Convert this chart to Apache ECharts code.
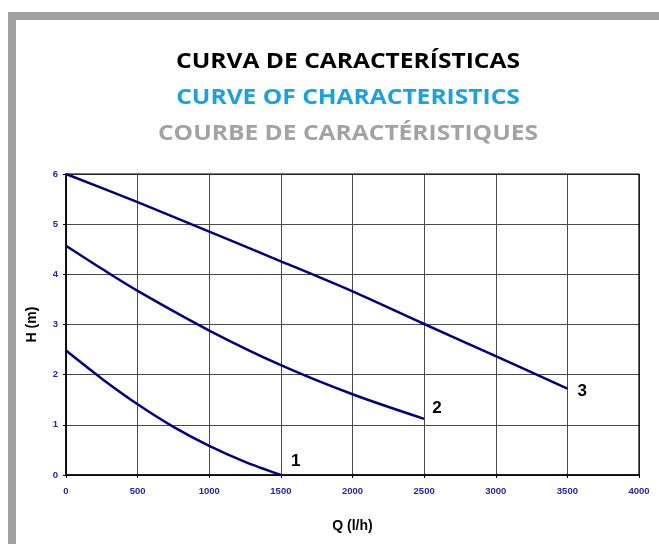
<!DOCTYPE html>
<html>
<head>
<meta charset="utf-8">
<style>
  html, body { margin: 0; padding: 0; background: #ffffff; }
  #chart { width: 659px; height: 544px; }
</style>
<script src="https://cdn.jsdelivr.net/npm/echarts@6/dist/echarts.min.js"></script>
</head>
<body>
<div id="chart"></div>
<script>
// Flow rate (l/h) sample points and the head (m) for each pump speed curve
const flow1 = [0, 250, 500, 750, 1000, 1250, 1500];
const head1 = [2.48, 1.92, 1.41, 0.96, 0.58, 0.26, 0.0];

const flow2 = [0, 250, 500, 1000, 1500, 2000, 2500];
const head2 = [4.57, 4.11, 3.67, 2.88, 2.19, 1.61, 1.12];

const flow3 = [0, 500, 1000, 1500, 2000, 2500, 3000, 3500];
const head3 = [6.0, 5.44, 4.85, 4.26, 3.66, 3.01, 2.37, 1.72];

const curveNames = ['1', '2', '3'];

const titleLines = [
  'CURVA DE CARACTERÍSTICAS',
  'CURVE OF CHARACTERISTICS',
  'COURBE DE CARACTÉRISTIQUES'
];
const titleColors = ['#000000', '#1ba1dd', '#a3a3a3'];
const titleCentersY = [62, 98, 134];

const xAxisName = 'Q (l/h)';
const yAxisName = 'H (m)';

const pairs = (xs, ys) => xs.map((x, i) => [x, ys[i]]);

const lineColor = '#000080';
const tickColor = '#26269a';

function curve(name, xs, ys, offset) {
  return {
    type: 'line',
    name: name,
    data: pairs(xs, ys),
    smooth: 0.3,
    symbol: 'none',
    lineStyle: { color: lineColor, width: 2.5 },
    endLabel: {
      show: true,
      formatter: name,
      distance: 0,
      offset: offset,
      color: '#000000',
      fontFamily: 'Liberation Sans',
      fontWeight: 'bold',
      fontSize: 17
    },
    z: 5
  };
}

const chart = echarts.init(document.getElementById('chart'), null, { renderer: 'canvas' });

chart.setOption({
  animation: false,
  backgroundColor: '#ffffff',
  graphic: [
    // frame bars along the top and left edges
    { type: 'rect', shape: { x: 8, y: 12, width: 651, height: 8 }, style: { fill: '#a0a0a0' } },
    { type: 'rect', shape: { x: 8, y: 12, width: 8, height: 532 }, style: { fill: '#a0a0a0' } },
    // three-language heading, slightly widened bold sans
    ...titleLines.map((t, i) => ({
      type: 'text',
      x: 348,
      y: titleCentersY[i],
      scaleX: 1.17,
      style: {
        x: 0,
        y: 0,
        text: t,
        fill: titleColors[i],
        font: 'bold 21px "Open Sans"',
        align: 'center',
        verticalAlign: 'middle',
        textAlign: 'center',
        textVerticalAlign: 'middle'
      }
    }))
  ],
  grid: { left: 66, right: 20, top: 174, bottom: 69, show: false },
  xAxis: {
    type: 'value',
    min: 0, max: 4000, interval: 500,
    name: xAxisName,
    nameLocation: 'middle',
    nameGap: 44,
    nameTextStyle: { color: '#000', fontFamily: 'Liberation Sans', fontWeight: 'bold', fontSize: 14 },
    axisLine: { show: true, onZero: false, lineStyle: { color: '#000', width: 1.5 } },
    axisTick: { show: true, length: 3, lineStyle: { color: '#000' } },
    axisLabel: {
      color: tickColor, fontFamily: 'Liberation Sans', fontWeight: 'bold', fontSize: 9.5, margin: 11,
      formatter: v => String(v)
    },
    splitLine: { show: true, lineStyle: { color: '#4a4a4a', width: 1 } }
  },
  yAxis: {
    type: 'value',
    min: 0, max: 6, interval: 1,
    name: yAxisName,
    nameLocation: 'middle',
    nameGap: 27,
    nameRotate: 90,
    nameTextStyle: { color: '#000', fontFamily: 'Liberation Sans', fontWeight: 'bold', fontSize: 14 },
    axisLine: { show: true, onZero: false, lineStyle: { color: '#000', width: 1.5 } },
    axisTick: { show: true, length: 3, lineStyle: { color: '#000' } },
    axisLabel: {
      color: tickColor, fontFamily: 'Liberation Sans', fontWeight: 'bold', fontSize: 9.5, margin: 8,
      formatter: v => String(v)
    },
    splitLine: { show: true, lineStyle: { color: '#4a4a4a', width: 1 } }
  },
  series: [
    curve(curveNames[0], flow1, head1, [10, -14]),
    curve(curveNames[1], flow2, head2, [8, -11]),
    curve(curveNames[2], flow3, head3, [10, 3]),
    // outer border of the plotting area
    {
      type: 'line',
      data: [],
      markArea: {
        silent: true,
        itemStyle: { color: 'transparent', borderColor: '#000', borderWidth: 1.2 },
        data: [[{ coord: [0, 0] }, { coord: [4000, 6] }]]
      }
    }
  ]
});
</script>
</body>
</html>
